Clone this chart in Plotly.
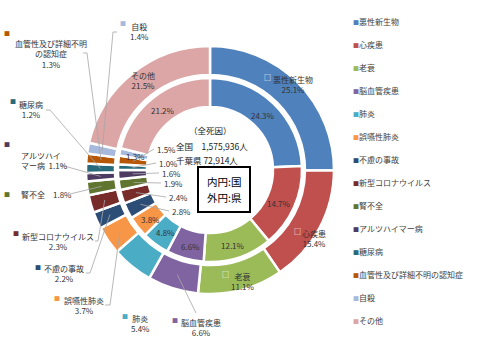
import math
import plotly.graph_objects as go

# ---------------- data ----------------
categories = ["悪性新生物", "心疾患", "老衰", "脳血管疾患", "肺炎", "誤嚥性肺炎", "不慮の事故",
              "新型コロナウイルス", "腎不全", "アルツハイマー病", "糖尿病",
              "血管性及び詳細不明の認知症", "自殺", "その他"]
national_pct = [24.3, 14.7, 12.1, 6.6, 4.8, 3.8, 2.8, 2.4, 1.9, 1.6, 1.0, 1.5, 1.3, 21.2]   # 内円:国
chiba_pct = [25.1, 15.4, 11.1, 6.6, 5.4, 3.7, 2.2, 2.3, 1.8, 1.1, 1.2, 1.3, 1.4, 21.5]      # 外円:県
national_total = 1575936
chiba_total = 72914
colors = ["#4F81BD", "#C0504D", "#9BBB59", "#8064A2", "#4BACC6", "#F79646", "#2C4D75",
          "#772C2A", "#5F7530", "#4D3B62", "#276A7C", "#B65708", "#A7B9DC", "#DBA6A5"]

# ---------------- layout constants ----------------
W, H = 480, 358
CX, CY = 210, 170
R_OUT, R_OUT_HOLE = 124, 95
R_IN, R_IN_HOLE = 92, 63
FONT = "Noto Sans CJK JP"
TXT = "#333333"
LINE = "#a6a6a6"
FS = 8


def dom(r):
    return dict(x=[(CX - r) / W, (CX + r) / W], y=[1 - (CY + r) / H, 1 - (CY - r) / H])


def mid_point(values, i, r):
    tot = sum(values)
    c = sum(values[:i]) + values[i] / 2
    a = 2 * math.pi * c / tot
    return CX + r * math.sin(a), CY - r * math.cos(a)


fig = go.Figure()
fig.add_trace(go.Pie(labels=categories, values=chiba_pct, name="千葉県",
                     hole=R_OUT_HOLE / R_OUT, domain=dom(R_OUT), sort=False,
                     direction="clockwise", rotation=0,
                     marker=dict(colors=colors, line=dict(color="white", width=2.5)),
                     textinfo="none", hoverinfo="label+value", showlegend=False))
fig.add_trace(go.Pie(labels=categories, values=national_pct, name="全国",
                     hole=R_IN_HOLE / R_IN, domain=dom(R_IN), sort=False,
                     direction="clockwise", rotation=0,
                     marker=dict(colors=colors, line=dict(color="white", width=2.5)),
                     textinfo="none", hoverinfo="label+value", showlegend=False))

# legend entries (marker drawn in the label text so it sits right beside the text)
for name, col in zip(categories, colors):
    fig.add_trace(go.Scatter(x=[None], y=[None], mode="markers",
                             marker=dict(size=1, opacity=0, color="rgba(0,0,0,0)",
                                         line=dict(width=0, color="rgba(0,0,0,0)")),
                             name=f'<span style="color:{col};font-size:6px">■</span>{name}',
                             legendgroup=name, hoverinfo="skip"))

annotations = []
shapes = []


def add_text(x, y, text, size=FS, color=TXT, xanchor="center", align="center", **kw):
    annotations.append(dict(x=x, y=y, xref="x", yref="y", text=text, showarrow=False,
                            xanchor=xanchor, yanchor="middle", align=align,
                            font=dict(family=FONT, size=size, color=color), **kw))


def add_path(points):
    d = "M " + " L ".join(f"{px:.1f},{py:.1f}" for px, py in points)
    shapes.append(dict(type="path", path=d, xref="x", yref="y",
                       line=dict(color=LINE, width=0.8), layer="above"))


# ---------------- outer ring labels (県) ----------------
# (text x, text y, marker x, marker y, inside, leader anchor points, xanchor, align)
outer_layout = [
    (293, 84.5, 267, 77, True, None, "center", "center"),
    (314, 238, 297, 231, True, None, "center", "center"),
    (243, 281, 225, 274, True, None, "center", "center"),
    (201, 327, 175, 320, False, [(196, 313)], "center", "center"),
    (140, 323, 125, 316, False, None, "center", "center"),
    (84, 305, 57, 298, False, [(105, 305), (110, 305)], "center", "center"),
    (64, 273.5, 38, 267, False, [(86, 273), (90, 273)], "center", "center"),
    (58, 241, 16, 233, False, [(95, 241), (98, 241)], "center", "center"),
    (46, 194, 7, 194, False, [(70, 194)], "center", "center"),
    (19, 160, 7, 144, False, [(61, 165)], "left", "left"),
    (31, 109, 13, 101, False, [(46, 110), (50, 110)], "center", "center"),
    (51, 53.5, 7, 33, False, [(83, 53), (87, 53)], "center", "center"),
    (139, 31, 123, 23, False, [(117, 32), (113, 32)], "center", "center"),
    (143, 80.5, 124, 73, True, None, "center", "center"),
]


def outer_text(i):
    name = categories[i]
    p = f"{chiba_pct[i]:.1f}%"
    if i == 8:
        return f"{name}　{p}"
    if i == 9:
        return f"{name[:5]}<br>{name[5:]}  {p}"
    if i == 11:
        return f"{name[:9]}<br>{name[9:]}<br>{p}"
    return f"{name}<br>{p}"


for i, (tx, ty, mx, my, inside, anchors, xa, al) in enumerate(outer_layout):
    add_text(tx, ty, outer_text(i), xanchor=xa, align=al)
    if inside:
        add_text(mx, my, "□", size=7, color="white")
    else:
        add_text(mx, my, "■", size=6, color=colors[i])
    if anchors:
        add_path(anchors + [mid_point(chiba_pct, i, (R_OUT + R_OUT_HOLE) / 2)])

# ---------------- inner ring labels (国) ----------------
inner_layout = [
    (262.5, 115, None), (279, 203, None), (233, 245, None), (190, 246, None),
    (165, 232, None), (150, 219, None),
    (170, 211, "left"), (167, 197, "left"), (162, 183, "left"), (160, 173, "left"),
    (157, 163, "left"), (155, 149, "left"),
    (135, 156, None), (163, 110, None),
]
for i, (tx, ty, xa) in enumerate(inner_layout):
    txt = f"{national_pct[i]:.1f}%"
    if xa == "left":
        add_text(tx, ty, txt, xanchor="left")
        add_path([(tx - 1, ty), mid_point(national_pct, i, (R_IN + R_IN_HOLE) / 2)])
    else:
        add_text(tx, ty, txt)

# ---------------- centre texts ----------------
add_text(210, 130, "（全死因）", size=8.5, color="#222222")
add_text(174, 146, f"全国　{national_total:,}人", size=8.5, color="#222222", xanchor="left")
add_text(174, 160, f"千葉県 {chiba_total:,}人", size=8.5, color="#222222", xanchor="left")
shapes.append(dict(type="rect", xref="x", yref="y", x0=198, x1=250, y0=167, y1=212,
                   line=dict(color="black", width=2), fillcolor="white", layer="above"))
add_text(224, 181.5, "内円:国", size=10.5, color="black")
add_text(224, 197.5, "外円:県", size=10.5, color="black")

fig.update_layout(
    width=W, height=H, margin=dict(l=0, r=0, t=0, b=0),
    paper_bgcolor="white", plot_bgcolor="white",
    xaxis=dict(range=[0, W], visible=False, fixedrange=True),
    yaxis=dict(range=[H, 0], visible=False, fixedrange=True),
    annotations=annotations, shapes=shapes,
    legend=dict(x=313 / W, y=1 - 7 / H, xanchor="left", yanchor="top",
                font=dict(family=FONT, size=8, color="#404040"),
                tracegroupgap=4, bgcolor="rgba(0,0,0,0)", itemwidth=30),
    showlegend=True,
)

fig.write_html("out.html", config={"displayModeBar": False},
               post_script="document.body.style.margin='0';")
